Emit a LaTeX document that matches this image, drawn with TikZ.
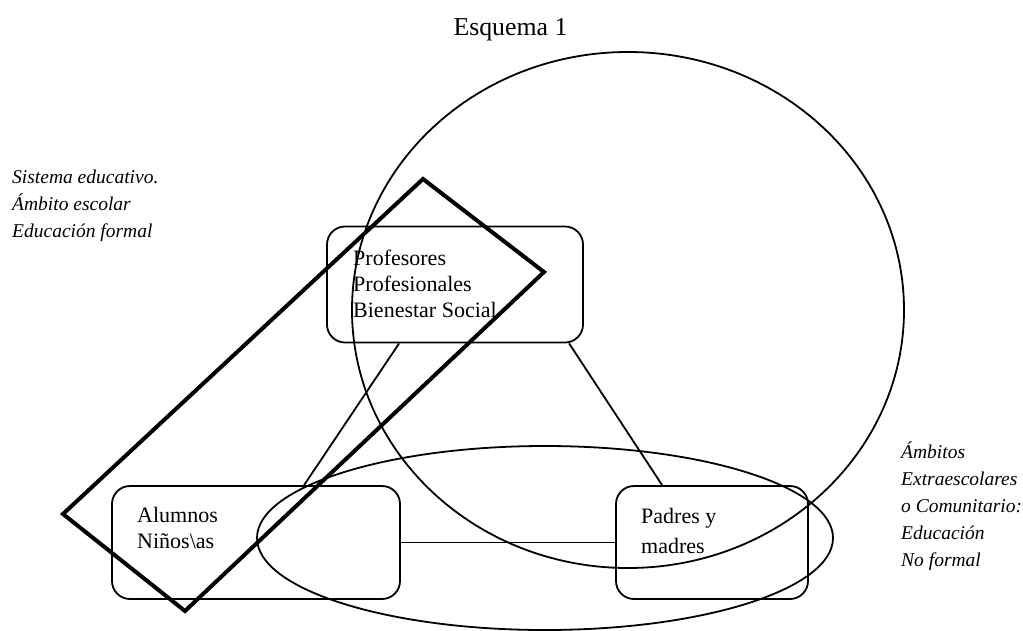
\documentclass[tikz,border=0pt]{standalone}
\usepackage{fontspec}
\setmainfont{Liberation Serif}
\usetikzlibrary{calc}
\begin{document}
\begin{tikzpicture}[x=1pt,y=-1pt,
  thinline/.style={line width=1.8pt},
  boxstyle/.style={draw,line width=1.8pt,rounded corners=18pt,inner sep=0pt,rectangle},
  labeltext/.style={inner sep=0pt,anchor=north west,align=left,font=\fontsize{22}{26}\selectfont},
  sidetext/.style={inner sep=0pt,anchor=north west,align=left,font=\fontsize{19.5}{27}\selectfont\itshape},
  thickframe/.style={line width=4pt,miter limit=10}]
\useasboundingbox (0,0) rectangle (1023,630);

% title
\node[inner sep=0pt,anchor=base,font=\fontsize{25.8}{30}\selectfont] (title) at (510.5,35) {Esquema 1};

% boxes
\node[boxstyle,minimum width=256pt,minimum height=116pt] (prof) at (455,284.5) {};
\node[boxstyle,minimum width=288pt,minimum height=113pt] (alum) at (256,542.5) {};
\node[boxstyle,minimum width=192pt,minimum height=113pt] (padr) at (712,542.5) {};

% box texts
\node[labeltext] (proftxt) at (353,246.8) {\strut Profesores\\Profesionales\\Bienestar Social};
\node[labeltext] (alumtxt) at (137,503.8) {\strut Alumnos\\Niños\textbackslash as};
\node[labeltext,font=\fontsize{22}{30}\selectfont] (padrtxt) at (641,502) {\strut Padres y\\madres};

% connectors
\draw[thinline] ($(prof.south west)+(73,0)$) -- ($(alum.north west)+(193,0)$);
\draw[thinline] ($(prof.south west)+(243,0)$) -- ($(padr.north west)+(47,0)$);
\draw[thinline] (alum.east) -- (padr.west);

% big circle
\draw[thinline] (628,310) ellipse [x radius=276, y radius=258];
% bottom ellipse
\draw[thinline] (545,538) ellipse [x radius=288, y radius=92];

% thick rotated rectangle
\draw[thickframe] (423,179) -- (544,272) -- (185,611) -- (63,514) -- cycle;

% side texts
\node[sidetext] (lefttxt) at (12,164.1) {\strut Sistema educativo.\\Ámbito escolar\\Educación formal};
\node[sidetext] (righttxt) at (901,439.1) {\strut Ámbitos\\Extraescolares\\o Comunitario:\\Educación\\No formal};
\end{tikzpicture}
\end{document}
